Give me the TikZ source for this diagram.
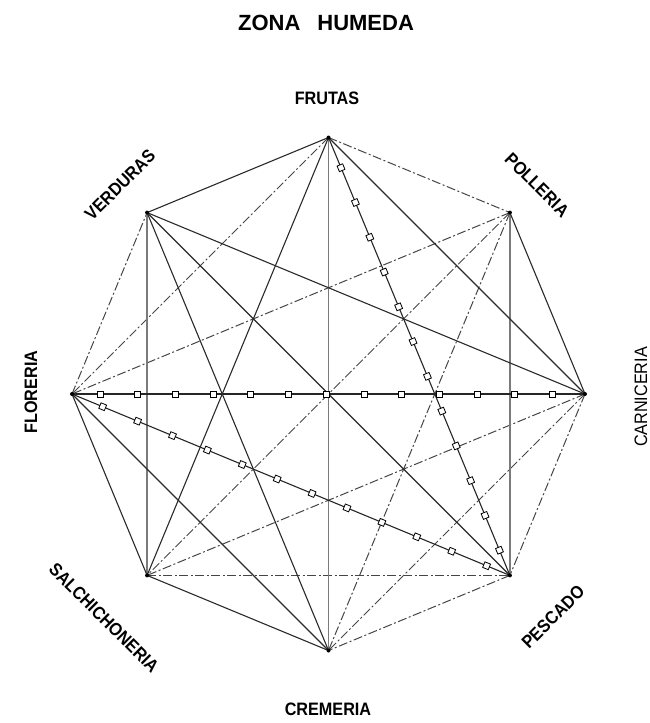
\documentclass[tikz,border=0pt]{standalone}
\usepackage{fontspec}
\setmainfont{Liberation Sans}
\newfontfamily\lblfont[FakeStretch=0.9]{Liberation Sans}
\usetikzlibrary{calc}
\definecolor{solidc}{HTML}{2a2a2a}
\definecolor{dashc}{HTML}{454545}
\definecolor{vertc}{HTML}{7a7a7a}
\begin{document}
\begin{tikzpicture}[x=1pt,y=-1pt,
  sline/.style={draw=solidc,line width=1.1pt},
  vline/.style={draw=vertc,line width=1.9pt},
  dline/.style={draw=dashc,line width=1pt,dash pattern=on 9pt off 2.5pt on 2pt off 2.5pt},
  mline/.style={draw=black!85,line width=1.1pt},
  sq/.style={draw=black,fill=white,line width=0.8pt,minimum size=6pt,inner sep=0pt,rectangle,sloped},
  lbl/.style={font=\lblfont\bfseries\fontsize{18}{18}\selectfont,inner sep=0pt},
  lblr/.style={font=\lblfont\fontsize{18}{18}\selectfont,inner sep=0pt},
  ttl/.style={font=\bfseries\fontsize{22}{22}\selectfont,inner sep=0pt}
]
\useasboundingbox (0,0) rectangle (650,723);
% vertices
\coordinate (F)  at (328.5,137.5);
\coordinate (P)  at (509.9,212.6);
\coordinate (C)  at (585,394);
\coordinate (Pe) at (509.9,575.4);
\coordinate (Cr) at (328.5,650.5);
\coordinate (S)  at (147.1,575.4);
\coordinate (Fl) at (72,394);
\coordinate (V)  at (147.1,212.6);

% dashed connections
\foreach \a/\b in {F/P, C/Pe, Pe/Cr, Fl/V, F/Fl, P/Cr, P/S, P/Fl, C/S, C/Cr, S/Pe}
  \path[dline] (\a) -- (\b);
% vertical connections
\foreach \a/\b in {F/Cr, V/S, P/Pe}
  \path[vline] (\a) -- (\b);
% solid connections
\foreach \a/\b in {F/V, P/C, Cr/S, S/Fl, F/C, F/S, V/C, V/Pe, V/Cr, Fl/Cr}
  \path[sline] (\a) -- (\b);
% marked connections
\path[mline] (F) -- (Pe);
\path[mline] (Fl) -- (C);
\path[mline] (Fl) -- (Pe);
\foreach \i [evaluate=\i as \t using 0.069+\i*0.0794] in {0,...,11}
  \path (F) -- (Pe) node[sq,pos=\t] {};
\foreach \i [evaluate=\i as \t using 0.0546+\i*0.0735] in {0,...,12}
  \path (Fl) -- (C) node[sq,pos=\t] {};
\foreach \i [evaluate=\i as \t using 0.0701+\i*0.0797] in {0,...,11}
  \path (Fl) -- (Pe) node[sq,pos=\t] {};

% vertex dots
\foreach \v in {F,P,C,Pe,Cr,S,Fl,V}
  \fill[black] (\v) circle (2pt);

% labels
\node[ttl] (title) at (326,23) {ZONA\hspace{17pt}HUMEDA};
\node[lbl] (lF)  at (327,98) {FRUTAS};
\node[lbl,rotate=-45] (lP) at (537,185) {POLLERIA};
\node[lblr,rotate=90] (lC) at (641,397) {CARNICERIA};
\node[lbl,rotate=45] (lPe) at (553,617) {PESCADO};
\node[lbl] (lCr) at (328,709) {CREMERIA};
\node[lbl,rotate=-45] (lS) at (104,618) {SALCHICHONERIA};
\node[lbl,rotate=90] (lFl) at (31,392) {FLORERIA};
\node[lbl,rotate=45] (lV) at (120,185) {VERDURAS};
\end{tikzpicture}
\end{document}
